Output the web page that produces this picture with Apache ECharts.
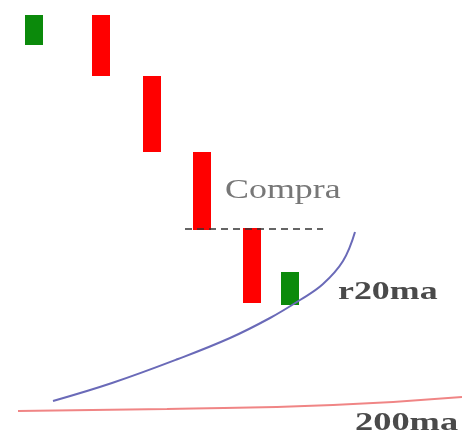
<!DOCTYPE html>
<html>
<head>
<meta charset="utf-8">
<script src="https://cdn.jsdelivr.net/npm/echarts@6/dist/echarts.min.js"></script>
<style>
  html, body { margin: 0; padding: 0; background: #fff; }
  #chart { width: 462px; height: 446px; }
</style>
</head>
<body>
<div id="chart"></div>
<script>
// candles: x position, open, close (price units)
var candleX = [34, 101, 152, 202, 252, 290];
var candleOpen = [401, 431, 370, 294, 218, 141];
var candleClose = [431, 370, 294, 216, 143, 174];

// r20ma curve
var maX = [53, 112, 178, 230, 270, 300, 323, 343, 355];
var maY = [45, 63, 87, 108, 128, 146, 162, 185, 214];

// 200ma curve
var ma200X = [18, 167, 333, 462];
var ma200Y = [35, 37, 41, 49];

// buy level
var compraLevel = 217;
var compraFrom = 185;
var compraTo = 323;

var chart = echarts.init(document.getElementById('chart'));

var candleData = candleX.map(function (x, i) {
	return [x, candleOpen[i], candleClose[i]];
});

var option = {
	animation: false,
	backgroundColor: '#fff',
	grid: { left: 0, right: 0, top: 0, bottom: 0 },
	xAxis: { type: 'value', min: 0, max: 462, show: false },
	yAxis: { type: 'value', min: 0, max: 446, show: false },
	series: [{
		type: 'line',
		smooth: true,
		symbol: 'none',
		data: ma200X.map(function (x, i) { return [x, ma200Y[i]]; }),
		lineStyle: { color: '#f08585', width: 2 }
	}, {
		type: 'line',
		smooth: 0.4,
		symbol: 'none',
		data: maX.map(function (x, i) { return [x, maY[i]]; }),
		lineStyle: { color: '#6a6ab8', width: 2 }
	}, {
		type: 'line',
		symbol: 'none',
		data: [[compraFrom, compraLevel], [compraTo, compraLevel]],
		lineStyle: { color: '#333', width: 1.5, type: [7, 5] }
	}, {
		type: 'custom',
		data: candleData,
		renderItem: function (params, api) {
			var x = api.value(0);
			var a = api.coord([x, api.value(1)]);
			var b = api.coord([x, api.value(2)]);
			var w = 18;
			return {
				type: 'rect',
				shape: { x: a[0] - w / 2, y: Math.min(a[1], b[1]), width: w, height: Math.abs(b[1] - a[1]) },
				style: { fill: api.value(2) > api.value(1) ? '#0b8a0b' : '#ff0000' }
			};
		}
	}],
	graphic: [{
		type: 'text', x: 225, y: 190.5, scaleX: 1.33,
		style: { x: 0, y: 0, text: 'Compra', font: '27px "Liberation Serif"', fill: '#777', verticalAlign: 'middle' }
	}, {
		type: 'text', x: 338, y: 292.5, scaleX: 1.38,
		style: { x: 0, y: 0, text: 'r20ma', font: 'bold 26px "Liberation Serif"', fill: '#4a4a4a', verticalAlign: 'middle' }
	}, {
		type: 'text', x: 355, y: 423.5, scaleX: 1.4,
		style: { x: 0, y: 0, text: '200ma', font: 'bold 26px "Liberation Serif"', fill: '#4a4a4a', verticalAlign: 'middle' }
	}]
};

chart.setOption(option);
</script>
</body>
</html>
